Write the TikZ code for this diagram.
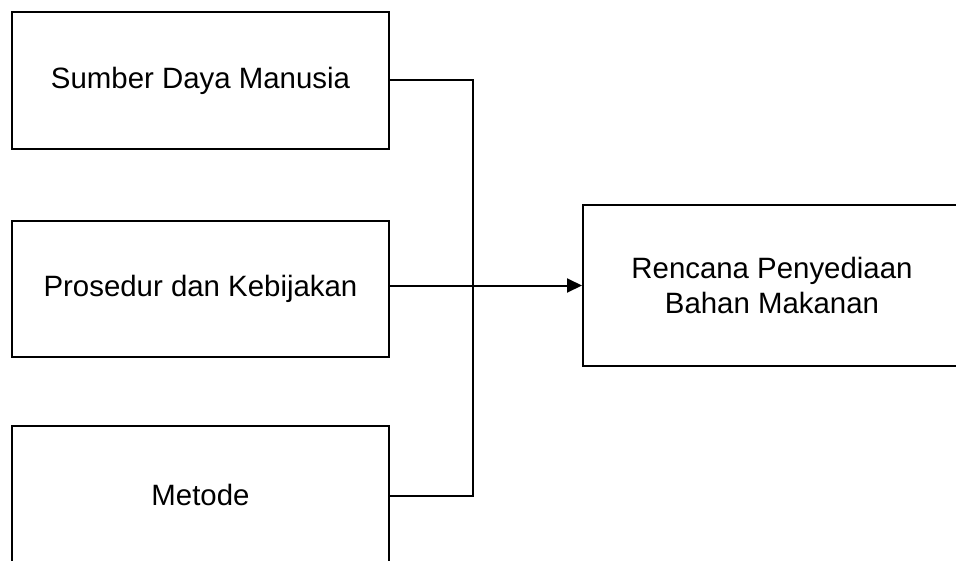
\documentclass[tikz,border=0pt]{standalone}
\usepackage{fontspec}
\setmainfont{Liberation Sans}
\usetikzlibrary{arrows.meta}
\begin{document}
\begin{tikzpicture}[x=1pt,y=1pt,
  box/.style={draw,line width=2pt,minimum width=377pt,inner sep=0pt,align=center,
    font=\fontsize{29.4pt}{35pt}\selectfont},
  conn/.style={line width=2pt}]
\useasboundingbox (0,0) rectangle (956,-560);
\clip (0,0) rectangle (956,-560);
\node[box,minimum height=137pt] (sdm) at (200.5,-80.5) {Sumber Daya Manusia};
\node[box,minimum height=136pt] (pk) at (200.5,-289) {Prosedur dan Kebijakan};
\node[box,minimum height=137pt] (met) at (200.5,-494.5) {Metode};
\node[box,minimum width=378pt,minimum height=161pt] (rp) at (772,-285.5) {Rencana Penyediaan\\Bahan Makanan};
\coordinate (j1) at (473,-80);
\coordinate (j3) at (473,-496);
\draw[conn] (sdm.east |- j1) -- (j1) -- (j3) -- (met.east |- j3);
\draw[conn,-{Triangle[length=15pt,width=14pt]}] (rp.west -| pk.east) -- (rp.west);
\end{tikzpicture}
\end{document}
